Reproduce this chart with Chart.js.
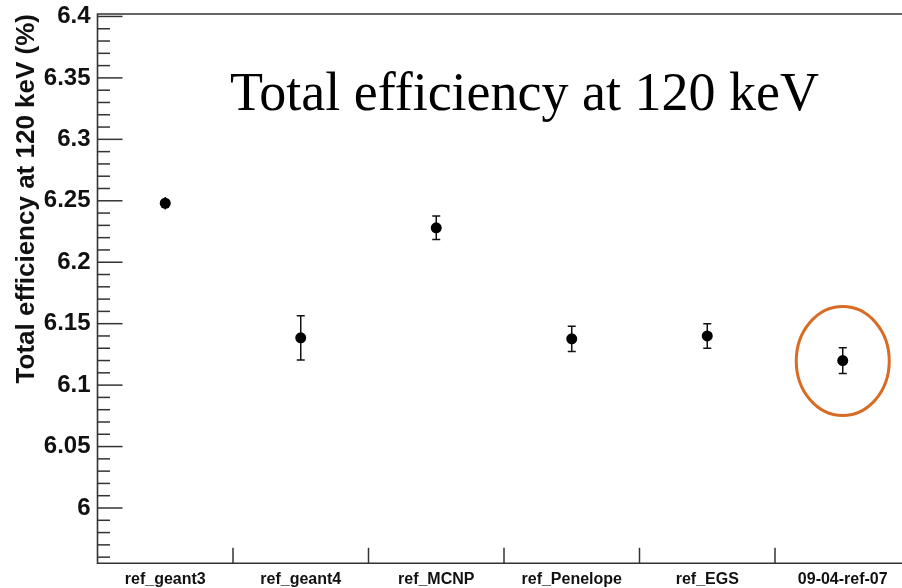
<!DOCTYPE html>
<html>
<head>
<meta charset="utf-8">
<script src="https://cdn.jsdelivr.net/npm/chart.js@4/dist/chart.umd.min.js"></script>
<style>
  html, body { margin: 0; padding: 0; background: #fff; overflow: hidden; }
  canvas { display: block; }
</style>
</head>
<body>
<canvas id="c" width="916" height="588"></canvas>
<script>
// Simulation codes / reference configurations
const categories = ['ref_geant3', 'ref_geant4', 'ref_MCNP', 'ref_Penelope', 'ref_EGS', '09-04-ref-07'];
// Total efficiency at 120 keV (%) and its uncertainty
const efficiency = [6.248, 6.1385, 6.228, 6.1377, 6.140, 6.120];
const efficiencyErr = [0.005, 0.018, 0.0096, 0.0103, 0.010, 0.0105];
// Labelled y ticks
const majorTicks = ['6', '6.05', '6.1', '6.15', '6.2', '6.25', '6.3', '6.35', '6.4'];
// Point marked with a circle
const highlightIndex = 5;

const FRAME = '#333333';

const rootStyle = {
  id: 'rootStyle',
  beforeDatasetsDraw(chart) {
    const { ctx, chartArea: a, scales: { x, y } } = chart;
    ctx.save();
    ctx.strokeStyle = FRAME;
    ctx.lineWidth = 1.6;
    // frame: left, top, bottom
    ctx.beginPath();
    ctx.moveTo(a.right + 2, a.top);
    ctx.lineTo(a.left, a.top);
    ctx.lineTo(a.left, a.bottom);
    ctx.lineTo(a.right + 2, a.bottom);
    ctx.stroke();
    // y ticks drawn inside the frame
    ctx.lineWidth = 1.5;
    y.ticks.forEach(t => {
      const k = t.value * 100;
      const r = Math.round(k);
      if (Math.abs(k - r) > 1e-6) return;
      const len = r % 5 === 0 ? 25 : 12.5;
      const py = y.getPixelForValue(t.value);
      ctx.beginPath();
      ctx.moveTo(a.left, py);
      ctx.lineTo(a.left + len, py);
      ctx.stroke();
    });
    // x ticks at the bin boundaries
    for (let i = 1; i < categories.length; i++) {
      const px = (x.getPixelForValue(i - 1) + x.getPixelForValue(i)) / 2;
      ctx.beginPath();
      ctx.moveTo(px, a.bottom);
      ctx.lineTo(px, a.bottom - 15.5);
      ctx.stroke();
    }
    // error bars
    ctx.strokeStyle = '#111';
    ctx.lineWidth = 1.5;
    efficiency.forEach((v, i) => {
      const px = x.getPixelForValue(i);
      const top = y.getPixelForValue(v + efficiencyErr[i]);
      const bot = y.getPixelForValue(v - efficiencyErr[i]);
      ctx.beginPath();
      ctx.moveTo(px, top);
      ctx.lineTo(px, bot);
      ctx.stroke();
      if (bot - top > 16) {
        ctx.beginPath();
        ctx.moveTo(px - 4, top); ctx.lineTo(px + 4, top);
        ctx.moveTo(px - 4, bot); ctx.lineTo(px + 4, bot);
        ctx.stroke();
      }
    });
    ctx.restore();
  },
  afterDatasetsDraw(chart) {
    const { ctx, scales: { x, y } } = chart;
    ctx.save();
    // circle around the highlighted point
    const cx = x.getPixelForValue(highlightIndex);
    const cy = y.getPixelForValue(efficiency[highlightIndex]);
    ctx.strokeStyle = '#d86c24';
    ctx.lineWidth = 3;
    ctx.beginPath();
    ctx.ellipse(cx, cy + 0.5, 46.5, 54.5, 0, 0, Math.PI * 2);
    ctx.stroke();
    // plot heading
    ctx.fillStyle = '#000';
    ctx.font = '54px "Liberation Serif", "Times New Roman", serif';
    ctx.textBaseline = 'alphabetic';
    ctx.textAlign = 'left';
    ctx.fillText('Total efficiency at 120 keV', 230, 110);
    ctx.restore();
  }
};

new Chart(document.getElementById('c'), {
  type: 'line',
  data: {
    labels: categories,
    datasets: [{
      data: efficiency,
      showLine: false,
      pointRadius: 5.5,
      pointHoverRadius: 5.5,
      pointBackgroundColor: '#000',
      pointBorderColor: '#000',
      pointBorderWidth: 0
    }]
  },
  options: {
    responsive: false,
    animation: false,
    events: [],
    layout: { padding: { top: 14, right: 0, left: 0, bottom: 0 } },
    plugins: { legend: { display: false }, tooltip: { enabled: false } },
    scales: {
      x: {
        type: 'category',
        offset: true,
        grid: { display: false, drawTicks: false },
        border: { display: false },
        ticks: {
          color: '#111',
          padding: 8,
          maxRotation: 0,
          autoSkip: false,
          font: { family: '"Liberation Sans", Arial, sans-serif', size: 16, weight: 'bold', lineHeight: 1 }
        },
        afterFit(s) { s.height = 24.7; s.paddingLeft = 0; s.paddingRight = 0; }
      },
      y: {
        min: 5.955,
        max: 6.402,
        grid: { display: false, drawTicks: false },
        border: { display: false },
        ticks: {
          stepSize: 0.01,
          includeBounds: false,
          autoSkip: false,
          padding: 7,
          color: '#111',
          font: { family: '"Liberation Sans", Arial, sans-serif', size: 24, weight: 'bold', lineHeight: 1 },
          callback(value) {
            const m = majorTicks.find(s => Math.abs(parseFloat(s) - value) < 1e-6);
            return m === undefined ? '' : m;
          }
        },
        title: {
          display: true,
          text: 'Total efficiency at 120 keV (%)',
          align: 'end',
          color: '#111',
          padding: { top: 11, bottom: 0 },
          font: { family: '"Liberation Sans", Arial, sans-serif', size: 26, weight: 'bold', lineHeight: 1.2 }
        },
        afterFit(s) { s.width = 97.5; s.paddingTop = 0; s.paddingBottom = 0; }
      }
    }
  },
  plugins: [rootStyle]
});
</script>
</body>
</html>
